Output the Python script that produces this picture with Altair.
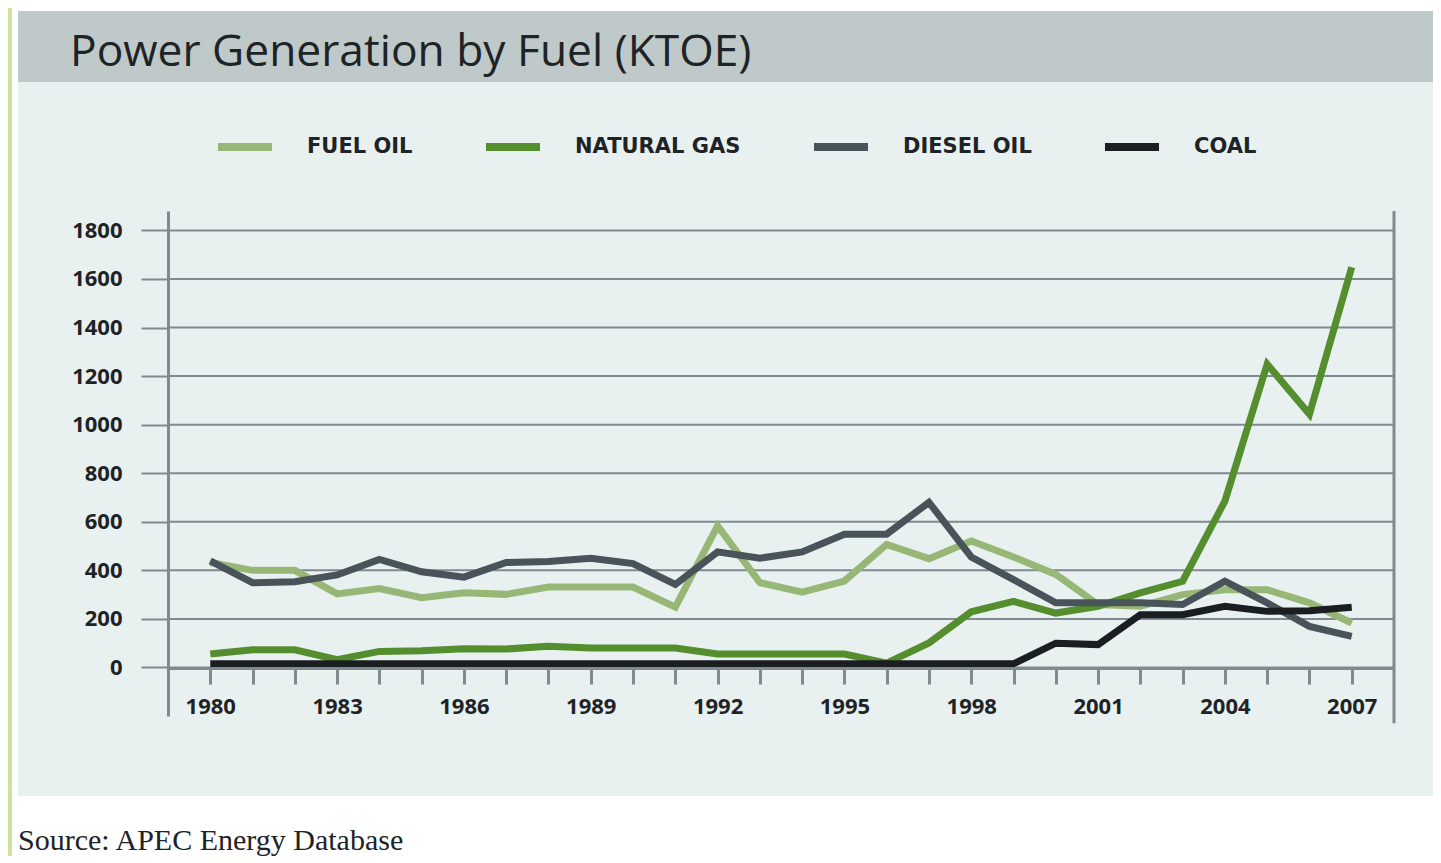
import altair as alt
import pandas as pd

years = list(range(1980, 2008))
series_names = ["FUEL OIL", "NATURAL GAS", "DIESEL OIL", "COAL"]
series_colors = ["#97b777", "#548e2f", "#48545a", "#1b1e21"]

fuel_oil = [432, 400, 400, 303, 325, 287, 308, 301, 331, 331, 331, 248, 583, 349,
            310, 356, 507, 448, 521, 455, 383, 259, 252, 300, 320, 320, 266, 183]
natural_gas = [55, 73, 73, 32, 66, 69, 77, 76, 87, 80, 80, 80, 55, 55,
               55, 55, 18, 101, 229, 272, 224, 252, 307, 355, 685, 1249, 1043, 1648]
diesel_oil = [439, 349, 353, 381, 445, 394, 372, 432, 436, 450, 428, 342, 476, 450,
              476, 549, 549, 680, 455, 362, 266, 266, 266, 259, 355, 266, 169, 128]
coal = [15, 15, 15, 15, 15, 15, 15, 15, 15, 15, 15, 15, 15, 15,
        15, 15, 15, 15, 15, 15, 100, 94, 217, 217, 252, 231, 234, 248]

y_ticks = [0, 200, 400, 600, 800, 1000, 1200, 1400, 1600, 1800]
x_domain = [1979, 2008]
y_domain = [-200, 1880]

title_text = "Power Generation by Fuel (KTOE)"
source_text = "Source: APEC Energy Database"

rows = []
for name, vals in zip(series_names, [fuel_oil, natural_gas, diesel_oil, coal]):
    for yr, v in zip(years, vals):
        rows.append({"year": yr, "value": v, "series": name})
df = pd.DataFrame(rows)

grid_df = pd.DataFrame({"year": [x_domain[0]] * len(y_ticks),
                        "year2": [x_domain[1]] * len(y_ticks),
                        "value": y_ticks})

W, H = 1226, 505
one = pd.DataFrame({"k": [0]})

xscale = alt.Scale(domain=x_domain, nice=False, zero=False)
yscale = alt.Scale(domain=y_domain, nice=False, zero=False)
GRID = "#7f8b90"
INK = "#1e2326"

green_strip = alt.Chart(one).mark_rect(color="#cde398").encode(
    x=alt.value(-160), x2=alt.value(-156), y=alt.value(-203), y2=alt.value(645))
band = alt.Chart(one).mark_rect(color="#bfc9ca").encode(
    x=alt.value(-150), x2=alt.value(1265), y=alt.value(-200), y2=alt.value(-129))
panel = alt.Chart(one).mark_rect(color="#e9f0f0").encode(
    x=alt.value(-150), x2=alt.value(1265), y=alt.value(-129), y2=alt.value(585))

title = alt.Chart(one).mark_text(
    text=title_text, align="left", baseline="alphabetic", font="Open Sans",
    fontSize=44.3, color=INK).encode(x=alt.value(-98), y=alt.value(-145))
source = alt.Chart(one).mark_text(
    text=source_text, align="left", baseline="alphabetic", font="Liberation Serif",
    fontSize=30, color=INK).encode(x=alt.value(-150), y=alt.value(639))

grid = alt.Chart(grid_df).mark_rule(color=GRID, strokeWidth=2).encode(
    x=alt.X("year:Q", scale=xscale, title=None),
    x2="year2:Q",
    y=alt.Y("value:Q", scale=yscale, title=None))

right_axis = alt.Chart(pd.DataFrame({"year": [2008], "value": [-230], "value2": [1880]})).mark_rule(
    color=GRID, strokeWidth=3).encode(
    x=alt.X("year:Q", scale=xscale, title=None),
    y=alt.Y("value:Q", scale=yscale, title=None),
    y2="value2:Q")

lines = alt.Chart(df).mark_line(strokeWidth=7, strokeJoin="miter").encode(
    x=alt.X("year:Q", title=None, scale=xscale,
            axis=alt.Axis(values=years, format="d", grid=False, zindex=1,
                          labelExpr="(datum.value - 1980) % 3 == 0 ? datum.label : ''",
                          offset=-48, tickSize=16, tickWidth=3, tickColor=GRID,
                          domainColor=GRID, domainWidth=3, labelFlush=False,
                          labelFont="Open Sans", labelFontWeight="bold", labelFontSize=22,
                          labelColor=INK, labelPadding=12)),
    y=alt.Y("value:Q", title=None, scale=yscale,
            axis=alt.Axis(values=y_ticks, format="d", grid=False, zindex=1,
                          tickSize=27, tickWidth=2, tickColor=GRID,
                          domainColor=GRID, domainWidth=3,
                          labelFont="Open Sans", labelFontWeight="bold", labelFontSize=22,
                          labelColor=INK, labelPadding=19)),
    color=alt.Color("series:N", scale=alt.Scale(domain=series_names, range=series_colors),
                    legend=alt.Legend(title=None, orient="none", legendX=46, legendY=-95,
                                      direction="horizontal", symbolType="stroke",
                                      symbolSize=2916, symbolStrokeWidth=8,
                                      labelFont="DejaVu Sans", labelFontWeight="bold",
                                      labelFontSize=21, labelColor=INK, labelLimit=400,
                                      labelOffset=31, columnPadding=57, padding=0)),
    order=alt.Order("year:Q"),
)

chart = alt.layer(green_strip, band, panel, title, source, grid, right_axis, lines).properties(
    width=W, height=H,
    autosize=alt.AutoSizeParams(type="none"),
    padding={"left": 160, "top": 203, "right": 39, "bottom": 140},
    background="white",
).configure_view(stroke="transparent")

chart.save("out.html", embed_options={"renderer": "svg", "actions": False})
